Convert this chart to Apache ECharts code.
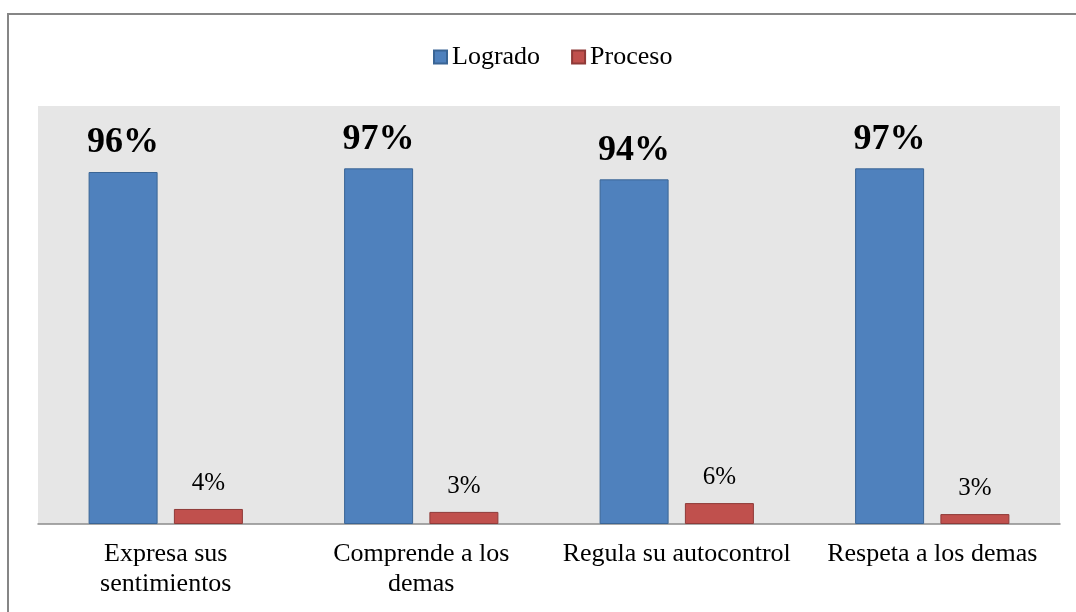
<!DOCTYPE html>
<html>
<head>
<meta charset="utf-8">
<script src="https://cdn.jsdelivr.net/npm/echarts@6/dist/echarts.min.js"></script>
<style>
html,body{margin:0;padding:0;background:#fff;}
#chart{width:1076px;height:612px;}
</style>
</head>
<body>
<div id="chart"></div>
<script>
var categories = ['Expresa sus\nsentimientos', 'Comprende a los\ndemas', 'Regula su autocontrol', 'Respeta a los demas'];
var seriesNames = ['Logrado', 'Proceso'];
var logrado = [96, 97, 94, 97];
var proceso = [4.1, 3.3, 5.7, 2.7];

var FONT = "'Liberation Serif', 'Times New Roman', serif";
var chart = echarts.init(document.getElementById('chart'), null, {renderer: 'canvas'});
var fmt = function (p) { return Math.round(p.value) + '%'; };

chart.setOption({
  animation: false,
  backgroundColor: '#ffffff',
  graphic: [{
    type: 'rect',
    shape: {x: 8, y: 14, width: 1100, height: 700},
    style: {fill: 'none', stroke: '#868686', lineWidth: 2},
    silent: true,
    z: -1
  }],
  legend: {
    top: 39,
    left: 428,
    itemWidth: 13,
    itemHeight: 13,
    itemGap: 31,
    icon: 'rect',
    textStyle: {fontFamily: FONT, fontSize: 26, color: '#000'},
    data: seriesNames
  },
  grid: {
    left: 38, right: 16, top: 106, bottom: 88,
    show: true, backgroundColor: '#e6e6e6', borderWidth: 0
  },
  xAxis: {
    type: 'category',
    data: categories,
    axisLine: {show: true, lineStyle: {color: '#8c8c8c', width: 1.5}},
    axisTick: {show: false},
    axisLabel: {
      interval: 0, margin: 15,
      fontFamily: FONT, fontSize: 26, lineHeight: 30, color: '#000'
    }
  },
  yAxis: {
    type: 'value', min: 0, max: 114,
    show: false,
    splitLine: {show: false}
  },
  series: [{
    name: seriesNames[0],
    type: 'bar',
    data: logrado,
    barWidth: 69,
    barGap: '23.6%',
    itemStyle: {color: '#4f81bd', borderColor: '#3a6595', borderWidth: 1},
    label: {
      show: true, position: 'top', distance: 11, formatter: fmt,
      fontFamily: FONT, fontSize: 36, fontWeight: 'bold', color: '#000'
    }
  }, {
    name: seriesNames[1],
    type: 'bar',
    data: proceso,
    barWidth: 69,
    itemStyle: {color: '#c0504d', borderColor: '#8f3a38', borderWidth: 1},
    label: {
      show: true, position: 'top', distance: 13, formatter: fmt,
      fontFamily: FONT, fontSize: 25, color: '#000'
    }
  }]
});
</script>
</body>
</html>
